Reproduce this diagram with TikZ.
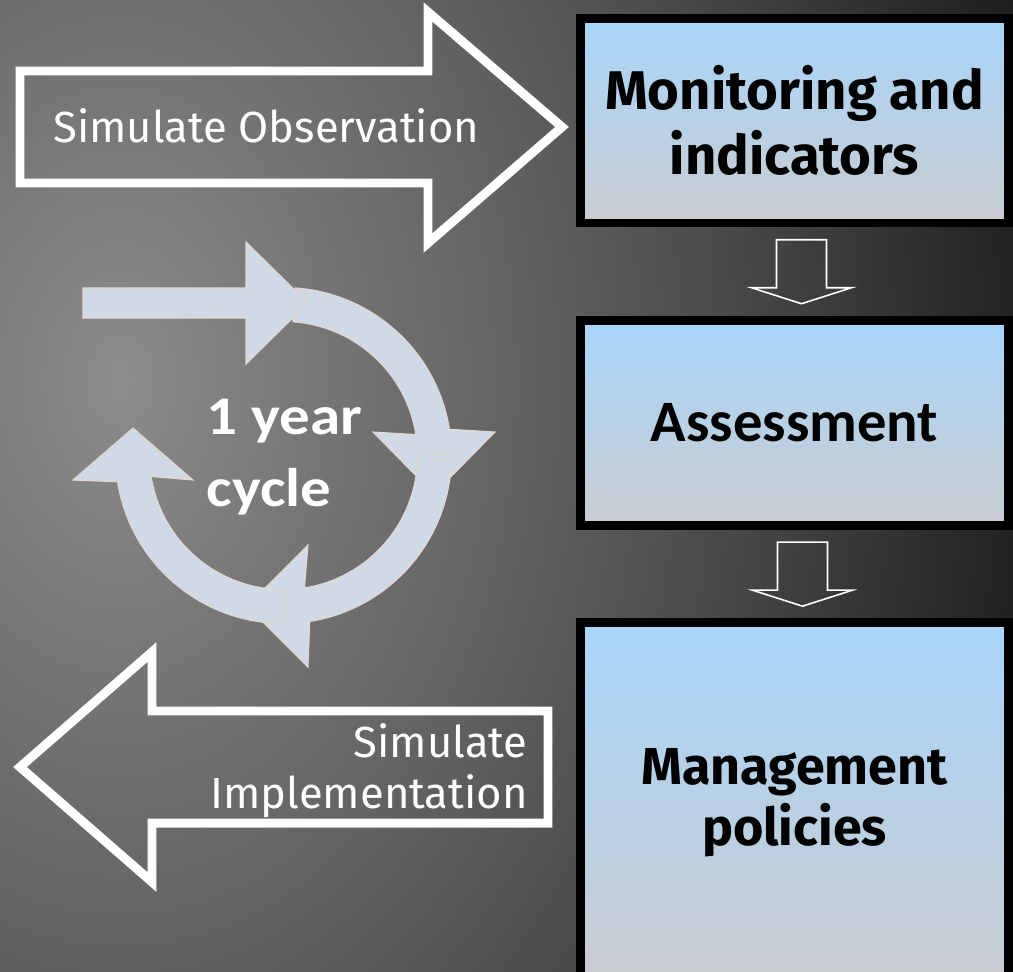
\documentclass[tikz,border=0pt]{standalone}
\usepackage{fontspec}
\setmainfont{Fira Sans}
\newfontfamily\calfont{Carlito}
\newfontfamily\calwide[FakeStretch=1.12]{Carlito}
\usetikzlibrary{positioning, calc}
\definecolor{boxtop}{HTML}{A8D5FA}
\definecolor{boxbot}{HTML}{C9CCD0}
\definecolor{cycfill}{HTML}{CFDAE6}
\definecolor{cycline}{HTML}{E6D6D0}
\definecolor{bgdark}{HTML}{1C1C1C}
\definecolor{glowin}{HTML}{8C8C8C}
\definecolor{glowa}{HTML}{767676}
\definecolor{glowb}{HTML}{626262}
\definecolor{glowc}{HTML}{515151}
\definecolor{glowd}{HTML}{3D3D3D}
\definecolor{glowe}{HTML}{222222}
\pgfdeclareradialshading{bgglow}{\pgfpoint{0bp}{0bp}}{color(0bp)=(glowin); color(5bp)=(glowa); color(10bp)=(glowb); color(13.75bp)=(glowc); color(17.5bp)=(glowd); color(22.5bp)=(glowe); color(25bp)=(bgdark); color(50bp)=(bgdark)}
\tikzset{
  stage box/.style={
    draw=black,
    line width=5.1pt,
    top color=boxtop,
    bottom color=boxbot,
    minimum width=8.58cm,
    outer sep=0pt,
    align=center,
    text=black,
    font=\bfseries\fontsize{31}{36.8}\selectfont,
  },
  cycle arrow/.style={
    fill=cycfill,
    draw=cycline,
    line width=0.6pt,
  },
  hollow arrow/.style={
    draw=white,
    line width=5.1pt,
    line join=miter,
  },
  arrow label/.style={
    text=white,
    inner sep=0pt,
    font=\fontsize{24.8}{28.9}\selectfont,
  },
  hollow down/.pic={
    \draw[white, line width=0.9pt] (-25,-32) -- (25,-32) -- (25,16) -- (50,16)
      -- (0,32) -- (-50,16) -- (-25,16) -- cycle;
  },
}

\begin{document}
\begin{tikzpicture}[x=0.02cm, y=-0.02cm]
        \useasboundingbox (0,0) rectangle (1013,971);
        \clip (0,0) rectangle (1013,971);
        \fill[bgdark] (0,0) rectangle (1013,971);
        \shade[shading=bgglow] (120,380) ellipse [x radius=1000, y radius=1429];

        \draw[hollow arrow] (20,71) -- (428,71) -- (428,12) -- (562,127)
        -- (428,243) -- (428,183) -- (20,183) -- cycle;
        \draw[hollow arrow] (548,711) -- (152,711) -- (152,652) -- (20,767)
        -- (152,882) -- (152,823) -- (548,823) -- cycle;

        \node[arrow label, anchor=base west] (obs) at (53,142) {Simulate Observation};
        \node[arrow label, anchor=east, align=right] (impl) at (528,771) {Simulate\\Implementation};

        \coordinate (hub) at (283.5,455.5);
        \path[cycle arrow] ([shift={(hub)}]-86:168) arc[start angle=-86, end angle=-9, radius=168]
        -- (495,432) -- (434,494) -- (373,432)
        -- ([shift={(hub)}]-9:134) arc[start angle=-9, end angle=-86, radius=134] -- cycle;
        \path[cycle arrow] (83,288) -- (246,288) -- (246,242) -- (308,303)
        -- (246,364) -- (246,318) -- (83,318) -- cycle;
        \path[cycle arrow] ([shift={(hub)}]0:168) arc[start angle=0, end angle=81, radius=168]
        -- (308,667) -- (247,606) -- (308,545)
        -- ([shift={(hub)}]81:134) arc[start angle=81, end angle=0, radius=134] -- cycle;
        \path[cycle arrow] ([shift={(hub)}]90:168) arc[start angle=90, end angle=171, radius=168]
        -- (73,480) -- (133,428) -- (193,480)
        -- ([shift={(hub)}]171:134) arc[start angle=171, end angle=90, radius=134] -- cycle;

        \node[text=white, inner sep=0pt, align=left, font=\calwide\bfseries\fontsize{31}{41.4}\selectfont] (cyc) at (284.5,457) {1 year\\cycle};

        \node[stage box, minimum height=4.1cm] (mon) at (794.5,120.5) {Monitoring and\\indicators};
        \node[stage box, minimum height=4.1cm, below=1.95cm of mon, font=\calfont\bfseries\fontsize{33.4}{40}\selectfont] (ass) {Assessment};
        \node[stage box, minimum height=7.19cm, below=1.95cm of ass, font=\bfseries\fontsize{29.6}{34.5}\selectfont] (man) {Management\\policies};

        \pic at ($(mon.south)!0.5!(ass.north)+(7,0)$) {hollow down};
        \pic at ($(ass.south)!0.5!(man.north)+(8,0)$) {hollow down};
      \end{tikzpicture}
\end{document}
